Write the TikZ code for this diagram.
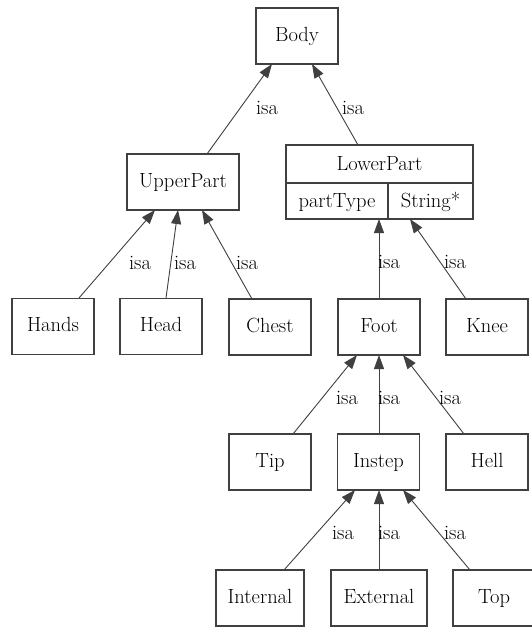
\documentclass[tikz,border=0pt]{standalone}
\usetikzlibrary{arrows.meta}
\begin{document}
\begin{tikzpicture}[x=1pt,y=-1pt,
  fnt/.style={font=\fontsize{20.5}{24}\selectfont},
  box/.style={fnt,draw=black!75,line width=1.1pt,minimum width=82pt,minimum height=56pt,inner sep=0pt,text height=14pt,text depth=4pt},
  txt/.style={fnt,inner sep=0pt,text height=14pt,text depth=4pt},
  lab/.style={fnt,inner sep=0pt},
  isa/.style={draw=black!75,line width=0.9pt,-{Triangle[length=14pt,width=10pt]}}]
\clip (0,0) rectangle (532,627);
\fill[white] (0,0) rectangle (532,627);
% nodes
\node[box] (body) at (297,36) {Body};
\node[box,minimum width=112pt] (upper) at (183,182) {UpperPart};
\node[box,minimum width=187pt,minimum height=74pt] (lower) at (379.5,182) {};
\draw[draw=black!75,line width=1.1pt] (286,183) -- (473,183);
\draw[draw=black!75,line width=1.1pt] (388,183) -- (388,219);
\node[txt] (lowername) at (379.5,165) {LowerPart};
\node[txt] (parttype) at (337,202) {partType};
\node[txt] (stringt) at (430.5,202) {String*};
\node[box] (hands) at (53,326.5) {Hands};
\node[box] (head) at (161,326.5) {Head};
\node[box] (chest) at (270,327) {Chest};
\node[box] (foot) at (379,327) {Foot};
\node[box] (knee) at (487,327) {Knee};
\node[box] (tip) at (270,462) {Tip};
\node[box] (instep) at (378.5,462) {Instep};
\node[box] (hell) at (487,462) {Hell};
\node[box,minimum width=88pt] (internal) at (260,598) {Internal};
\node[box,minimum width=96pt] (external) at (379,598) {External};
\node[box] (top) at (494,598) {Top};
% anchor coordinates
\coordinate (u1) at (207,154); \coordinate (b1) at (272,64);
\coordinate (l1) at (358,145); \coordinate (b2) at (312,64);
\coordinate (h1) at (79,298); \coordinate (u2) at (155,210);
\coordinate (h2) at (166,298); \coordinate (u3) at (178,210);
\coordinate (c1) at (252,299); \coordinate (u4) at (202,210);
\coordinate (f1) at (379,299); \coordinate (l2) at (379,219);
\coordinate (k1) at (466,299); \coordinate (l3) at (410,219);
\coordinate (t1) at (293,434); \coordinate (f2) at (357,355);
\coordinate (i1) at (379,434); \coordinate (f3) at (379,355);
\coordinate (e1) at (464,434); \coordinate (f4) at (403,355);
\coordinate (n1) at (284,570); \coordinate (s1) at (355,490);
\coordinate (x1) at (379,570); \coordinate (s2) at (379,490);
\coordinate (p1) at (470,570); \coordinate (s3) at (403,490);
% edges
\draw[isa] (u1) -- (b1);
\draw[isa] (l1) -- (b2);
\draw[isa] (h1) -- (u2);
\draw[isa] (h2) -- (u3);
\draw[isa] (c1) -- (u4);
\draw[isa] (f1) -- (l2);
\draw[isa] (k1) -- (l3);
\draw[isa] (t1) -- (f2);
\draw[isa] (i1) -- (f3);
\draw[isa] (e1) -- (f4);
\draw[isa] (n1) -- (s1);
\draw[isa] (x1) -- (s2);
\draw[isa] (p1) -- (s3);
% labels
\node[lab] (la1) at (267,108) {isa};
\node[lab] (la2) at (353,108) {isa};
\node[lab] (la3) at (140,263) {isa};
\node[lab] (la4) at (185,263) {isa};
\node[lab] (la5) at (247,263) {isa};
\node[lab] (la6) at (389,262) {isa};
\node[lab] (la7) at (455,262) {isa};
\node[lab] (la8) at (347,398) {isa};
\node[lab] (la9) at (389,398) {isa};
\node[lab] (la10) at (450,398) {isa};
\node[lab] (la11) at (343,533) {isa};
\node[lab] (la12) at (389,533) {isa};
\node[lab] (la13) at (455,533) {isa};
\end{tikzpicture}
\end{document}
